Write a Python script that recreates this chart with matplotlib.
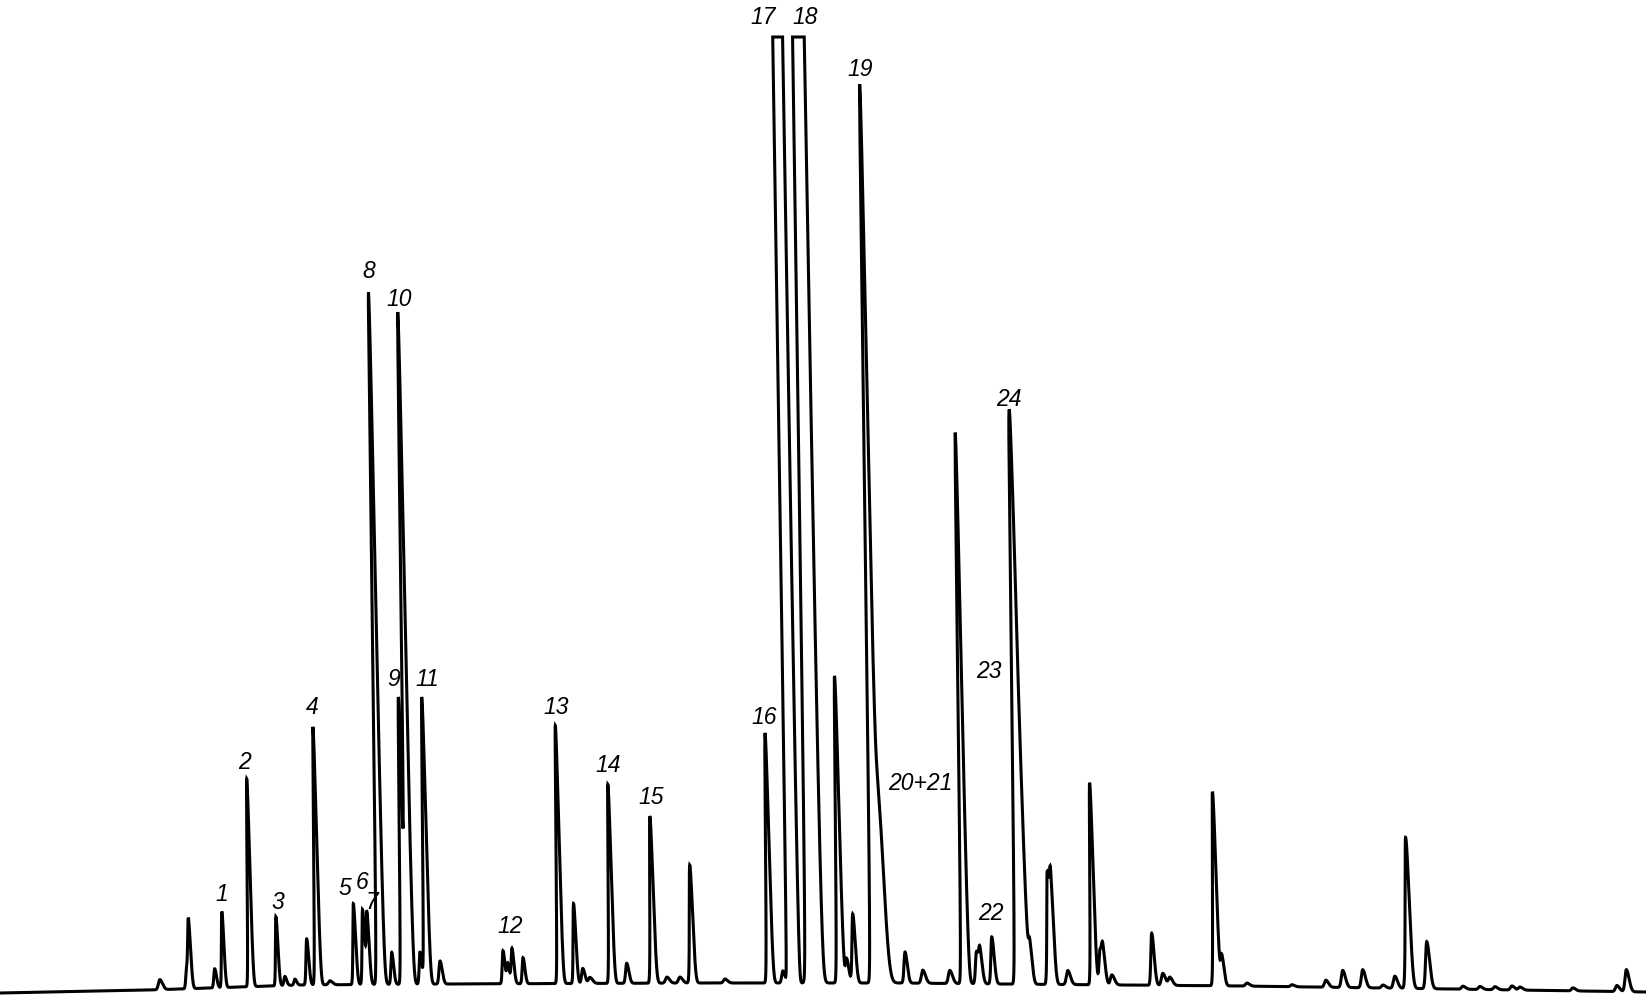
import numpy as np
import matplotlib.pyplot as plt

# recorder trace: retention position (chart units), peak height above baseline, peak width
peak_pos = [160, 187, 189.5, 215, 223, 250, 277, 285, 295, 307.4, 317, 330,
            354.6, 363.7, 368, 379.5, 392.2, 402.9, 408.5, 420.5, 426.3, 440.4,
            503.5, 508, 512.5, 523.4, 559.4, 574.8, 583, 590, 611, 627, 652.5,
            667, 680, 691.6, 725, 769, 783, 791.5, 812, 839.4, 847, 853.8, 874,
            881, 905.5, 923, 950, 964, 977, 980.5, 992.5, 1017.9, 1022, 1030.5,
            1049, 1052.5, 1068, 1092.8, 1100.5, 1103.5, 1112, 1152.5, 1163, 1170,
            1215.5, 1222.2, 1247, 1292, 1326, 1343, 1363, 1383, 1395, 1408,
            1427.5, 1463, 1480, 1495, 1512, 1520, 1573, 1617, 1626.7]
peak_height = [10, 20, 64, 19, 76, 208, 69, 9, 6, 46, 258, 4,
               81, 75, 70, 692, 32, 287, 669, 32, 287, 23,
               33, 20, 35, 26, 258, 80, 15, 6, 199, 20, 167,
               6, 6, 118, 4, 250, 12, 1e5, 1e4, 307, 24, 69, 895,
               180, 31, 13, 13, 551, 32, 30, 47, 535, 260, 34,
               112, 88, 14, 202, 34, 30, 10, 52, 12, 8,
               194, 30, 3, 2, 7, 17, 18, 3, 12, 151,
               47, 3, 3, 3, 4, 3, 3, 6, 22]
peak_width = [1.5, 1.0, 1.0, 1.0, 0.9, 1.0, 0.9, 1.0, 1.0, 1.0, 1.1, 1.5,
              1.0, 1.0, 1.0, 1.3, 1.0, 1.1, 1.3, 1.0, 1.2, 1.2,
              1.0, 1.0, 1.0, 1.0, 1.1, 1.0, 1.2, 1.5, 1.1, 1.2, 1.2,
              1.5, 1.5, 1.2, 1.5, 1.2, 1.2, 1.2, 2.0, 1.3, 1.2, 1.2, 1.5,
              2.5, 1.2, 1.5, 1.5, 1.3, 1.2, 1.2, 1.2, 1.4, 2.0, 1.2,
              1.2, 1.2, 1.5, 1.2, 1.2, 1.2, 1.5, 1.2, 1.5, 1.5,
              1.3, 1.2, 1.5, 1.5, 1.5, 1.5, 1.5, 1.5, 1.5, 1.5,
              1.5, 1.5, 1.5, 1.5, 1.5, 1.5, 1.5, 1.5, 1.5]

baseline_pos = [0, 150, 300, 450, 700, 900, 1000, 1240, 1450, 1646]
baseline_level = [10, 13, 18, 19, 20, 20, 19, 17, 14, 11]

label_text = ['1', '2', '3', '4', '5', '6', '7', '8', '9', '10', '11', '12',
              '13', '14', '15', '16', '17', '18', '19', '20+21', '22', '23', '24']
label_x = [221.5, 244.6, 278, 311.8, 344.5, 362, 372, 369, 393.5, 399.5, 427.5, 510,
           556, 608, 651, 764, 763, 805, 860, 920, 990.5, 988.5, 1009]
label_y = [109, 241, 101, 296.5, 115, 121, 101, 732, 325, 705, 325, 77,
           296.5, 238, 206, 286, 987, 987, 935, 220, 90, 333, 605]

clip_level = 946      # pen runs off the top of the chart
skew = 0.016          # pen-arc slant of the recorder

t = np.arange(0, 1646, 0.05)
signal = np.zeros_like(t)
for pos, h, w in zip(peak_pos, peak_height, peak_width):
    d = t - pos
    sig = np.where(d < 0, w, w * 1.7)
    signal += h * np.exp(-0.5 * (d / sig) ** 2)
signal = np.minimum(signal, clip_level)
base = np.interp(t, baseline_pos, baseline_level)

fig = plt.figure(figsize=(16.46, 10.04), dpi=100)
ax = fig.add_axes([0, 0, 1, 1])
ax.plot(t - skew * signal, base + signal, color='black', lw=2.2,
        solid_joinstyle='miter')
for txt, x, y in zip(label_text, label_x, label_y):
    ax.text(x, y, txt, ha='center', va='center', fontsize=16.5,
            style='italic', family='Liberation Sans', color='black')
ax.set_xlim(0, 1646)
ax.set_ylim(0, 1004)
ax.axis('off')
fig.savefig('out.png', dpi=100)
